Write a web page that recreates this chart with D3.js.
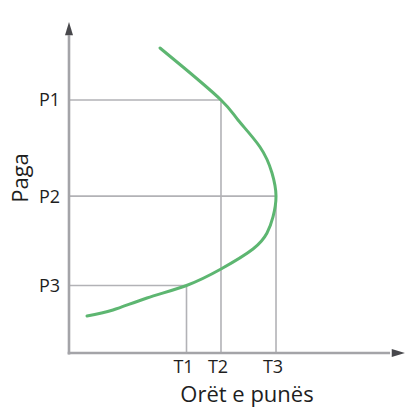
<!DOCTYPE html>
<html>
<head>
<meta charset="utf-8">
<script src="https://cdn.jsdelivr.net/npm/d3@7"></script>
<style>
  html, body { margin: 0; padding: 0; background: #fff; }
  svg { display: block; }
</style>
</head>
<body>
<svg id="chart" width="406" height="408"></svg>
<script>
// Backward-bending labour supply curve: hours worked vs. wage
const hourTicks = [
  { label: "T1", value: 35.5 },
  { label: "T2", value: 45.92 },
  { label: "T3", value: 62.54 }
];
const wageTicks = [
  { label: "P1", value: 76.44 },
  { label: "P2", value: 47.4 },
  { label: "P3", value: 20.4 }
];
// points along the supply curve, from low wage to high wage
const curveHours = [5.44, 13.29, 23.56, 35.5, 45.92, 55.59, 59.82, 61.63, 62.54,
                    61.33, 57.70, 51.06, 45.92, 34.44, 27.49];
const curveWages = [11.18, 12.99, 16.62, 20.4, 25.38, 31.42, 36.25, 41.09, 47.4,
                    54.38, 62.24, 70.39, 76.44, 86.40, 92.15];
// which hour tick meets which wage tick on the curve
const guides = [
  { t: "T1", p: "P3" },
  { t: "T2", p: "P1" },
  { t: "T3", p: "P2" }
];
const xTitle = "Orët e punës";
const yTitle = "Paga";

const svg = d3.select("#chart");
const x = d3.scaleLinear().domain([0, 100]).range([69, 400]);
const y = d3.scaleLinear().domain([0, 100]).range([353, 22]);
const font = "'Open Sans', 'Noto Sans', sans-serif";

const tVal = Object.fromEntries(hourTicks.map(d => [d.label, d.value]));
const pVal = Object.fromEntries(wageTicks.map(d => [d.label, d.value]));

// guide lines from the axes to the curve
const g = svg.append("g").attr("stroke", "#b2b2b6").attr("stroke-width", 1.6);
guides.forEach(d => {
  g.append("line")
    .attr("x1", x(0)).attr("x2", x(tVal[d.t]))
    .attr("y1", y(pVal[d.p])).attr("y2", y(pVal[d.p]));
  g.append("line")
    .attr("x1", x(tVal[d.t])).attr("x2", x(tVal[d.t]))
    .attr("y1", y(0)).attr("y2", y(pVal[d.p]));
});

// axes with arrowheads
const axisColor = "#a4a4a8";
svg.append("line")
  .attr("x1", x(0)).attr("x2", x(0))
  .attr("y1", y(0) + 1.5).attr("y2", y(96))
  .attr("stroke", axisColor).attr("stroke-width", 2.6);
svg.append("line")
  .attr("x1", x(0) - 1.3).attr("x2", x(97))
  .attr("y1", y(0)).attr("y2", y(0))
  .attr("stroke", axisColor).attr("stroke-width", 2.6);
svg.append("path")
  .attr("d", `M${x(0)},${y(100)} L${x(0) - 4},${y(96)} L${x(0) + 4},${y(96)} Z`)
  .attr("fill", "#48484c");
svg.append("path")
  .attr("d", `M${x(101.5)},${y(0)} L${x(97.5)},${y(0) - 4} L${x(97.5)},${y(0) + 4} Z`)
  .attr("fill", "#48484c");

// supply curve
const pts = curveHours.map((h, i) => [h, curveWages[i]]);
svg.append("path")
  .datum(pts)
  .attr("fill", "none")
  .attr("stroke", "#5db671")
  .attr("stroke-width", 3)
  .attr("stroke-linecap", "round")
  .attr("d", d3.line().x(d => x(d[0])).y(d => y(d[1])).curve(d3.curveNatural));

// tick labels
svg.append("g").selectAll("text").data(wageTicks).join("text")
  .attr("x", x(0) - 9).attr("y", d => y(d.value))
  .attr("dy", "0.36em").attr("text-anchor", "end")
  .attr("font-family", font).attr("font-size", 18).attr("fill", "#1e1e1e")
  .text(d => d.label);
svg.append("g").selectAll("text").data(hourTicks).join("text")
  .attr("x", d => x(d.value) - 3).attr("y", 373)
  .attr("text-anchor", "middle")
  .attr("font-family", font).attr("font-size", 18).attr("fill", "#1e1e1e")
  .text(d => d.label);

// axis titles
svg.append("text")
  .attr("x", 247).attr("y", 402).attr("text-anchor", "middle")
  .attr("font-family", font).attr("font-size", 22).attr("fill", "#1e1e1e")
  .text(xTitle);
svg.append("text")
  .attr("transform", "translate(28,178) rotate(-90)")
  .attr("text-anchor", "middle")
  .attr("font-family", font).attr("font-size", 22).attr("fill", "#1e1e1e")
  .text(yTitle);
</script>
</body>
</html>
